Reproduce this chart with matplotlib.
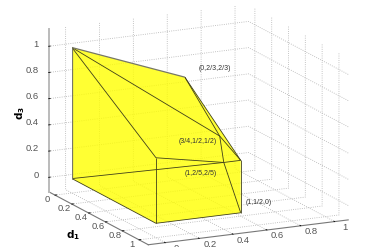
import matplotlib
matplotlib.use('Agg')
import matplotlib.pyplot as plt
from mpl_toolkits.mplot3d.art3d import Poly3DCollection, Line3DCollection

plt.rcParams['font.family'] = ['Liberation Sans', 'DejaVu Sans']

# polytope vertices (d1, d2, d3)
A = (0, 0, 1)
B = (0, 2/3, 2/3)
C = (0, 0, 0)
D = (1, 0, 0)
E = (1, 0, 1/2)
F = (1, 1/2, 0)
G = (1, 1/2, 2/5)
H = (3/4, 1/2, 1/2)
I = (1, 2/5, 2/5)

outline = [A, B, G, F, D, C]
edges = [
    [B, G], [G, F], [F, D], [D, C],
    [A, E], [E, D], [A, H], [H, I], [E, I], [I, G], [I, F], [C, I], [B, H], [H, G],
]
back_edges = [[A, B], [C, A]]

labels = ['(0,2/3,2/3)', '(3/4,1/2,1/2)', '(1,2/5,2/5)', '(1,1/2,0)']
label_pos = [(0, 0.75, 0.72), (0.75, 0.26, 0.495), (1, 0.17, 0.35), (1, 0.53, 0.07)]

ticks_xy = [0, 0.2, 0.4, 0.6, 0.8, 1]
ticks_z = [0, 0.2, 0.4, 0.6, 0.8, 1]
tick_labels = ['0', '0.2', '0.4', '0.6', '0.8', '1']

xlim = (-0.075, 1.11)
ylim = (-0.10, 1.08)
zlim = (-0.11, 1.13)

fig = plt.figure(figsize=(3.86, 2.47), dpi=100)
ax = fig.add_axes([2.1 / 386, -4.4 / 247, 1, 1], projection='3d', proj_type='ortho')
ax.computed_zorder = False
ax.view_init(elev=14.9, azim=-25.8)
ax.set_xlim(*xlim)
ax.set_ylim(*ylim)
ax.set_zlim(*zlim)
ax.set_box_aspect((193 * (xlim[1] - xlim[0]), 188 * (ylim[1] - ylim[0]), 135.5 * (zlim[1] - zlim[0])), zoom=1.417)

fill = Poly3DCollection([outline], facecolor=(1, 1, 0, 0.8), edgecolor='none', zorder=1)
ax.add_collection3d(fill)
ax.add_collection3d(Line3DCollection(edges, colors=[(0.25, 0.25, 0.1)], linewidths=0.6, zorder=2))
ax.add_collection3d(Line3DCollection(back_edges, colors=['#777766'], linewidths=0.9, zorder=2))

for txt, p in zip(labels, label_pos):
    ax.text(p[0], p[1], p[2], txt, fontsize=5, color='#333333', ha='left', va='center', zorder=3)

ax.set_xticks(ticks_xy)
ax.set_yticks(ticks_xy)
ax.set_zticks(ticks_z)
ax.zaxis.set_ticks_position('lower')

for axis in (ax.xaxis, ax.yaxis, ax.zaxis):
    axis.set_pane_color((1, 1, 1, 0))
    axis._axinfo['grid'].update(color='#b0b0b0', linestyle=':', linewidth=0.6)
    axis._axinfo['tick'].update(inward_factor=0.0, outward_factor=0.1, color='#666666', linewidth={True: 0.6, False: 0.6})
    axis.pane.set_edgecolor((1, 1, 1, 0))
    axis.set_tick_params(label1On=False, label2On=False)
    axis.label.set_visible(False)
    axis.offsetText.set_visible(False)
ax.xaxis.line.set_color('#777777')
ax.yaxis.line.set_color('#777777')
ax.zaxis.line.set_color('#bbbbbb')
ax.xaxis.line.set_linewidth(0.8)
ax.yaxis.line.set_linewidth(0.8)
ax.zaxis.line.set_linewidth(1.4)

# tick labels as 3D text so they sit right next to the ticks
for t, s in zip(ticks_xy, tick_labels):
    ax.text(t, ylim[0] - 0.043, zlim[0] - 0.028, s, fontsize=6.8, color='#555555', ha='center', va='center', zorder=3)
    ax.text(xlim[1], t + 0.063, zlim[0] - 0.055, s, fontsize=6.8, color='#555555', ha='center', va='center', zorder=3)
for t, s in zip(ticks_z, tick_labels):
    ax.text(xlim[0], ylim[0] - 0.058, t + 0.026, s, fontsize=6.8, color='#555555', ha='right', va='center', zorder=3)

fig.text(73 / 386, 1 - 235 / 247, '$\\mathbf{d_1}$', fontsize=7.5, ha='center', va='center')
fig.text(258 / 386, 1 - 252 / 247, '$\\mathbf{d_2}$', fontsize=7.5, ha='center', va='center')
fig.text(20 / 386, 1 - 113 / 247, '$\\mathbf{d_3}$', fontsize=7.5, ha='center', va='center', rotation=90)

fig.savefig('out.png', dpi=100)
